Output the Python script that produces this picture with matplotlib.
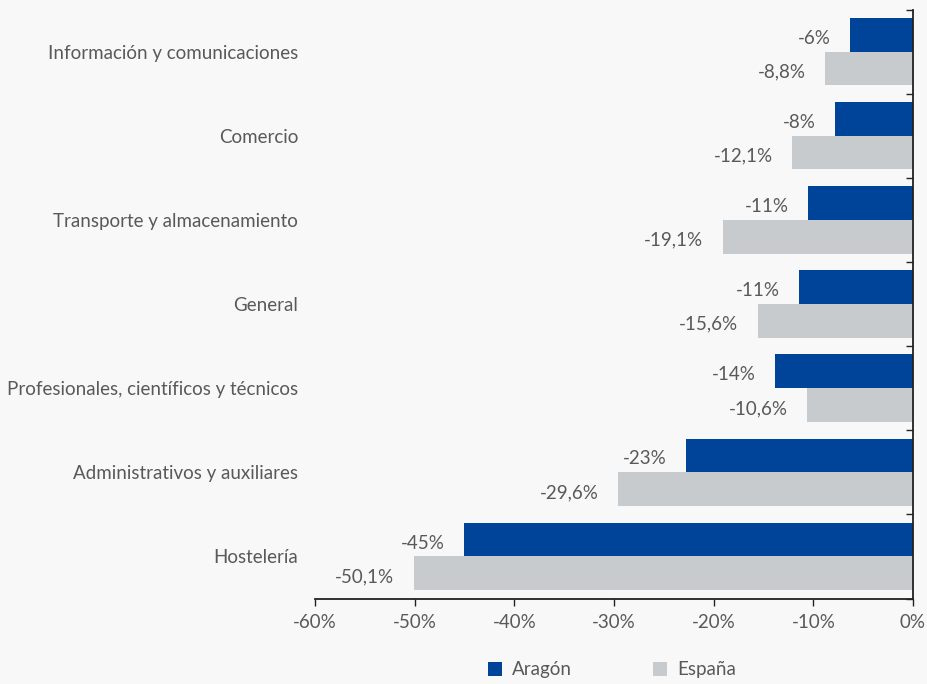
import matplotlib
matplotlib.use("Agg")
import matplotlib.pyplot as plt
from matplotlib.ticker import FixedLocator, FuncFormatter
import numpy as np

plt.rcParams['font.family'] = ['Lato', 'DejaVu Sans']
plt.rcParams['font.weight'] = 'normal'

categories = [
    "Información y comunicaciones",
    "Comercio",
    "Transporte y almacenamiento",
    "General",
    "Profesionales, científicos y técnicos",
    "Administrativos y auxiliares",
    "Hostelería",
]
aragon = [-6.3, -7.8, -10.5, -11.4, -13.8, -22.8, -45.0]
espana = [-8.8, -12.1, -19.1, -15.6, -10.6, -29.6, -50.1]
series_names = ["Aragón", "España"]
x_ticks = [-60, -50, -40, -30, -20, -10, 0]

BLUE = "#00449a"
GREY = "#c8cbce"
BG = "#f8f8f8"
TEXT = "#595959"
AXIS = "#222222"
FS = 13.5

fig = plt.figure(figsize=(9.28, 6.84), dpi=100, facecolor=BG)
ax = fig.add_axes([315 / 928, 85.5 / 684, 598 / 928, 589 / 684], facecolor=BG)

y = np.arange(len(categories))
h = 0.4
ax.barh(y - h / 2, aragon, height=h, color=BLUE, label=series_names[0], zorder=2)
ax.barh(y + h / 2, espana, height=h, color=GREY, label=series_names[1], zorder=2)

def fmt_int(v):
    return f"{int(np.floor(abs(v) + 0.5)) * (-1 if v < 0 else 1)}%"

def fmt_dec(v):
    return f"{v:.1f}".replace(".", ",") + "%"

for yi, v in zip(y, aragon):
    ax.annotate(fmt_int(v), (v, yi - h / 2), xytext=(-14, -2.5), textcoords="offset points",
                ha="right", va="center", fontsize=FS, color=TEXT)
for yi, v in zip(y, espana):
    ax.annotate(fmt_dec(v), (v, yi + h / 2), xytext=(-14, -2.5), textcoords="offset points",
                ha="right", va="center", fontsize=FS, color=TEXT)

ax.set_xlim(-60, 0)
ax.set_ylim(len(categories) - 0.5, -0.5)
ax.set_xticks(x_ticks)
ax.xaxis.set_major_formatter(FuncFormatter(lambda v, p: f"{int(v)}%"))
ax.set_yticks(y)
ax.set_yticklabels(categories)
ax.yaxis.set_minor_locator(FixedLocator(np.arange(-0.5, len(categories), 1.0)))

for s in ("top", "left"):
    ax.spines[s].set_visible(False)
for s in ("bottom", "right"):
    ax.spines[s].set_color(AXIS)
    ax.spines[s].set_linewidth(1.3)

ax.tick_params(axis="x", which="major", direction="out", length=5, width=1, color=AXIS,
               labelsize=FS, labelcolor=TEXT, pad=6)
ax.tick_params(axis="y", which="major", left=False, right=False, length=0,
               labelsize=FS, labelcolor=TEXT, pad=12)
ax.tick_params(axis="y", which="minor", left=False, right=True, direction="in",
               length=5, width=1, color=AXIS)

leg = fig.legend(loc="center", bbox_to_anchor=(612 / 928, 1 - 670 / 684), ncol=2, frameon=False,
                 fontsize=FS, handlelength=0.75, handleheight=0.75, columnspacing=4.3,
                 handletextpad=0.55)
for t in leg.get_texts():
    t.set_color(TEXT)

fig.savefig("out.png", dpi=100, facecolor=BG)
